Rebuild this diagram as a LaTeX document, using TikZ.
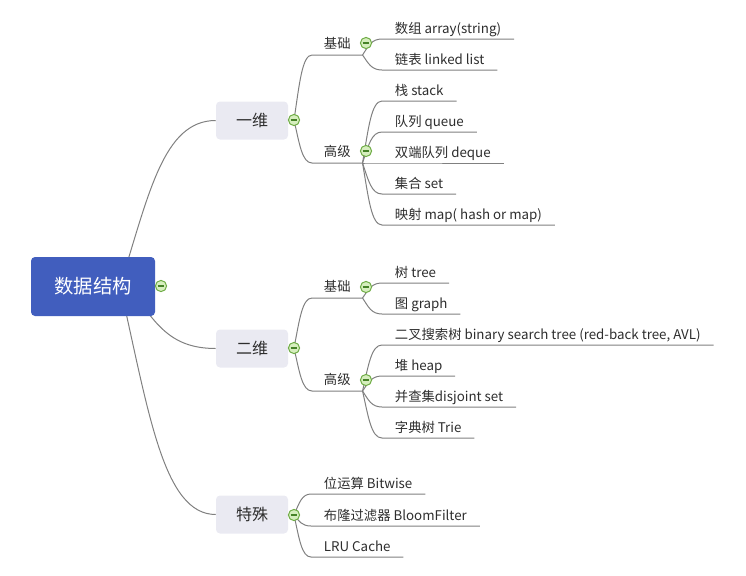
\documentclass[tikz,border=0pt]{standalone}
\usepackage{fontspec}
\setmainfont{Noto Sans CJK SC}
\usetikzlibrary{backgrounds,calc}
\definecolor{rootblue}{RGB}{65,94,190}
\definecolor{lvlbg}{RGB}{234,234,242}
\definecolor{txt}{RGB}{45,45,45}
\definecolor{linec}{RGB}{128,128,128}
\definecolor{foldfill}{RGB}{214,238,190}
\definecolor{folddraw}{RGB}{112,173,71}
\definecolor{foldbar}{RGB}{70,130,40}
\begin{document}
\begin{tikzpicture}[x=0.75pt,y=-0.75pt,
 rootbox/.style={rectangle, rounded corners=3pt, fill=rootblue, text=white, font=\fontsize{14.5pt}{17pt}\selectfont, minimum width=93pt, minimum height=44.25pt, inner sep=0pt},
 lvlbox/.style={rectangle, rounded corners=3pt, fill=lvlbg, text=txt, font=\fontsize{12pt}{14pt}\selectfont, minimum width=54pt, minimum height=28.5pt, inner sep=0pt},
 sublbl/.style={anchor=south west, text=txt, font=\fontsize{10pt}{12pt}\selectfont, minimum width=37.5pt, inner xsep=0pt, inner ysep=5pt, text depth=0pt, text height=8pt},
 leaf/.style={anchor=south west, text=txt, font=\fontsize{10pt}{12pt}\selectfont, inner xsep=9.5pt, inner ysep=3.8pt, text depth=0pt, text height=8pt},
 fold/.style={circle, draw=folddraw, fill=foldfill, line width=0.75pt, minimum size=8.4pt, inner sep=0pt,
   path picture={\draw[foldbar, line width=0.9pt] ([xshift=-2.6pt]path picture bounding box.center) -- ([xshift=2.6pt]path picture bounding box.center);}},
 conn/.style={draw=linec, line width=0.75pt},
 curvy/.style={to path={let \p1=(\tikztostart), \p2=(\tikztotarget) in .. controls ({\x1+0.3*(\x2-\x1)},{\y1+0.55*(\y2-\y1)}) and ({\x1+0.45*(\x2-\x1)},\y2) .. (\tikztotarget)}}
]
\useasboundingbox (0,0) rectangle (746,575);

% main and level-1 nodes
\node[rootbox] (root) at (93,286.5) {数据结构};
\node[fold] (rootc) at (161,286) {};
\coordinate (rootout) at (120,286);
\coordinate (rootout2) at (128,286);
\node[lvlbox] (yw) at (252,120.5) {一维};
\node[fold] (ywc) at (294,120) {};
\node[lvlbox] (ew) at (252,348.5) {二维};
\node[fold] (ewc) at (294,348) {};
\node[lvlbox] (ts) at (252,514.5) {特殊};
\node[fold] (tsc) at (294,515) {};

% level-2 labels
\node[sublbl] (yw1) at (312,55) {基础};
\node[fold] (yw1c) at (366,43) {};
\node[sublbl] (yw2) at (312,163) {高级};
\node[fold] (yw2c) at (366,151) {};
\node[sublbl] (ew1) at (312,298) {基础};
\node[fold] (ew1c) at (366,287) {};
\node[sublbl] (ew2) at (312,391) {高级};
\node[fold] (ew2c) at (366,380) {};

% leaves
\node[leaf] (a1) at (382,39) {数组 array(string)};
\node[leaf] (a2) at (382,70) {链表 linked list};
\node[leaf] (b1) at (382,101) {栈 stack};
\node[leaf] (b2) at (382,132) {队列 queue};
\node[leaf] (b3) at (382,163) {双端队列 deque};
\node[leaf] (b4) at (382,194) {集合 set};
\node[leaf] (b5) at (382,225) {映射 map( hash or map)};
\node[leaf] (c1) at (382,283) {树 tree};
\node[leaf] (c2) at (382,314) {图 graph};
\node[leaf] (d1) at (382,345) {二叉搜索树 binary search tree (red-back tree, AVL)};
\node[leaf] (d2) at (382,376) {堆 heap};
\node[leaf] (d3) at (382,407) {并查集disjoint set};
\node[leaf] (d4) at (382,438) {字典树 Trie};
\node[leaf] (e1) at (311,494) {位运算 Bitwise};
\node[leaf] (e2) at (311,526) {布隆过滤器 BloomFilter};
\node[leaf] (e3) at (311,557) {LRU Cache};

\begin{scope}[on background layer]
\draw[conn] (rootout) to[curvy] (yw.west);
\draw[conn] (rootout2) to[curvy] (ew.west);
\draw[conn] (rootout) to[curvy] (ts.west);

\draw[conn] (ywc.center) to[curvy] (yw1.south west) -- (yw1.south east);
\draw[conn] (ywc.center) to[curvy] (yw2.south west) -- (yw2.south east);
\draw[conn] (ewc.center) to[curvy] (ew1.south west) -- (ew1.south east);
\draw[conn] (ewc.center) to[curvy] (ew2.south west) -- (ew2.south east);

\foreach \leafn in {a1,a2}
  \draw[conn] (yw1.south east) to[curvy] (\leafn.south west) -- (\leafn.south east);
\foreach \leafn in {b1,b2,b3,b4,b5}
  \draw[conn] (yw2.south east) to[curvy] (\leafn.south west) -- (\leafn.south east);
\foreach \leafn in {c1,c2}
  \draw[conn] (ew1.south east) to[curvy] (\leafn.south west) -- (\leafn.south east);
\foreach \leafn in {d1,d2,d3,d4}
  \draw[conn] (ew2.south east) to[curvy] (\leafn.south west) -- (\leafn.south east);
\foreach \leafn in {e1,e2,e3}
  \draw[conn] (tsc.center) to[curvy] (\leafn.south west) -- (\leafn.south east);
\end{scope}
\end{tikzpicture}
\end{document}
